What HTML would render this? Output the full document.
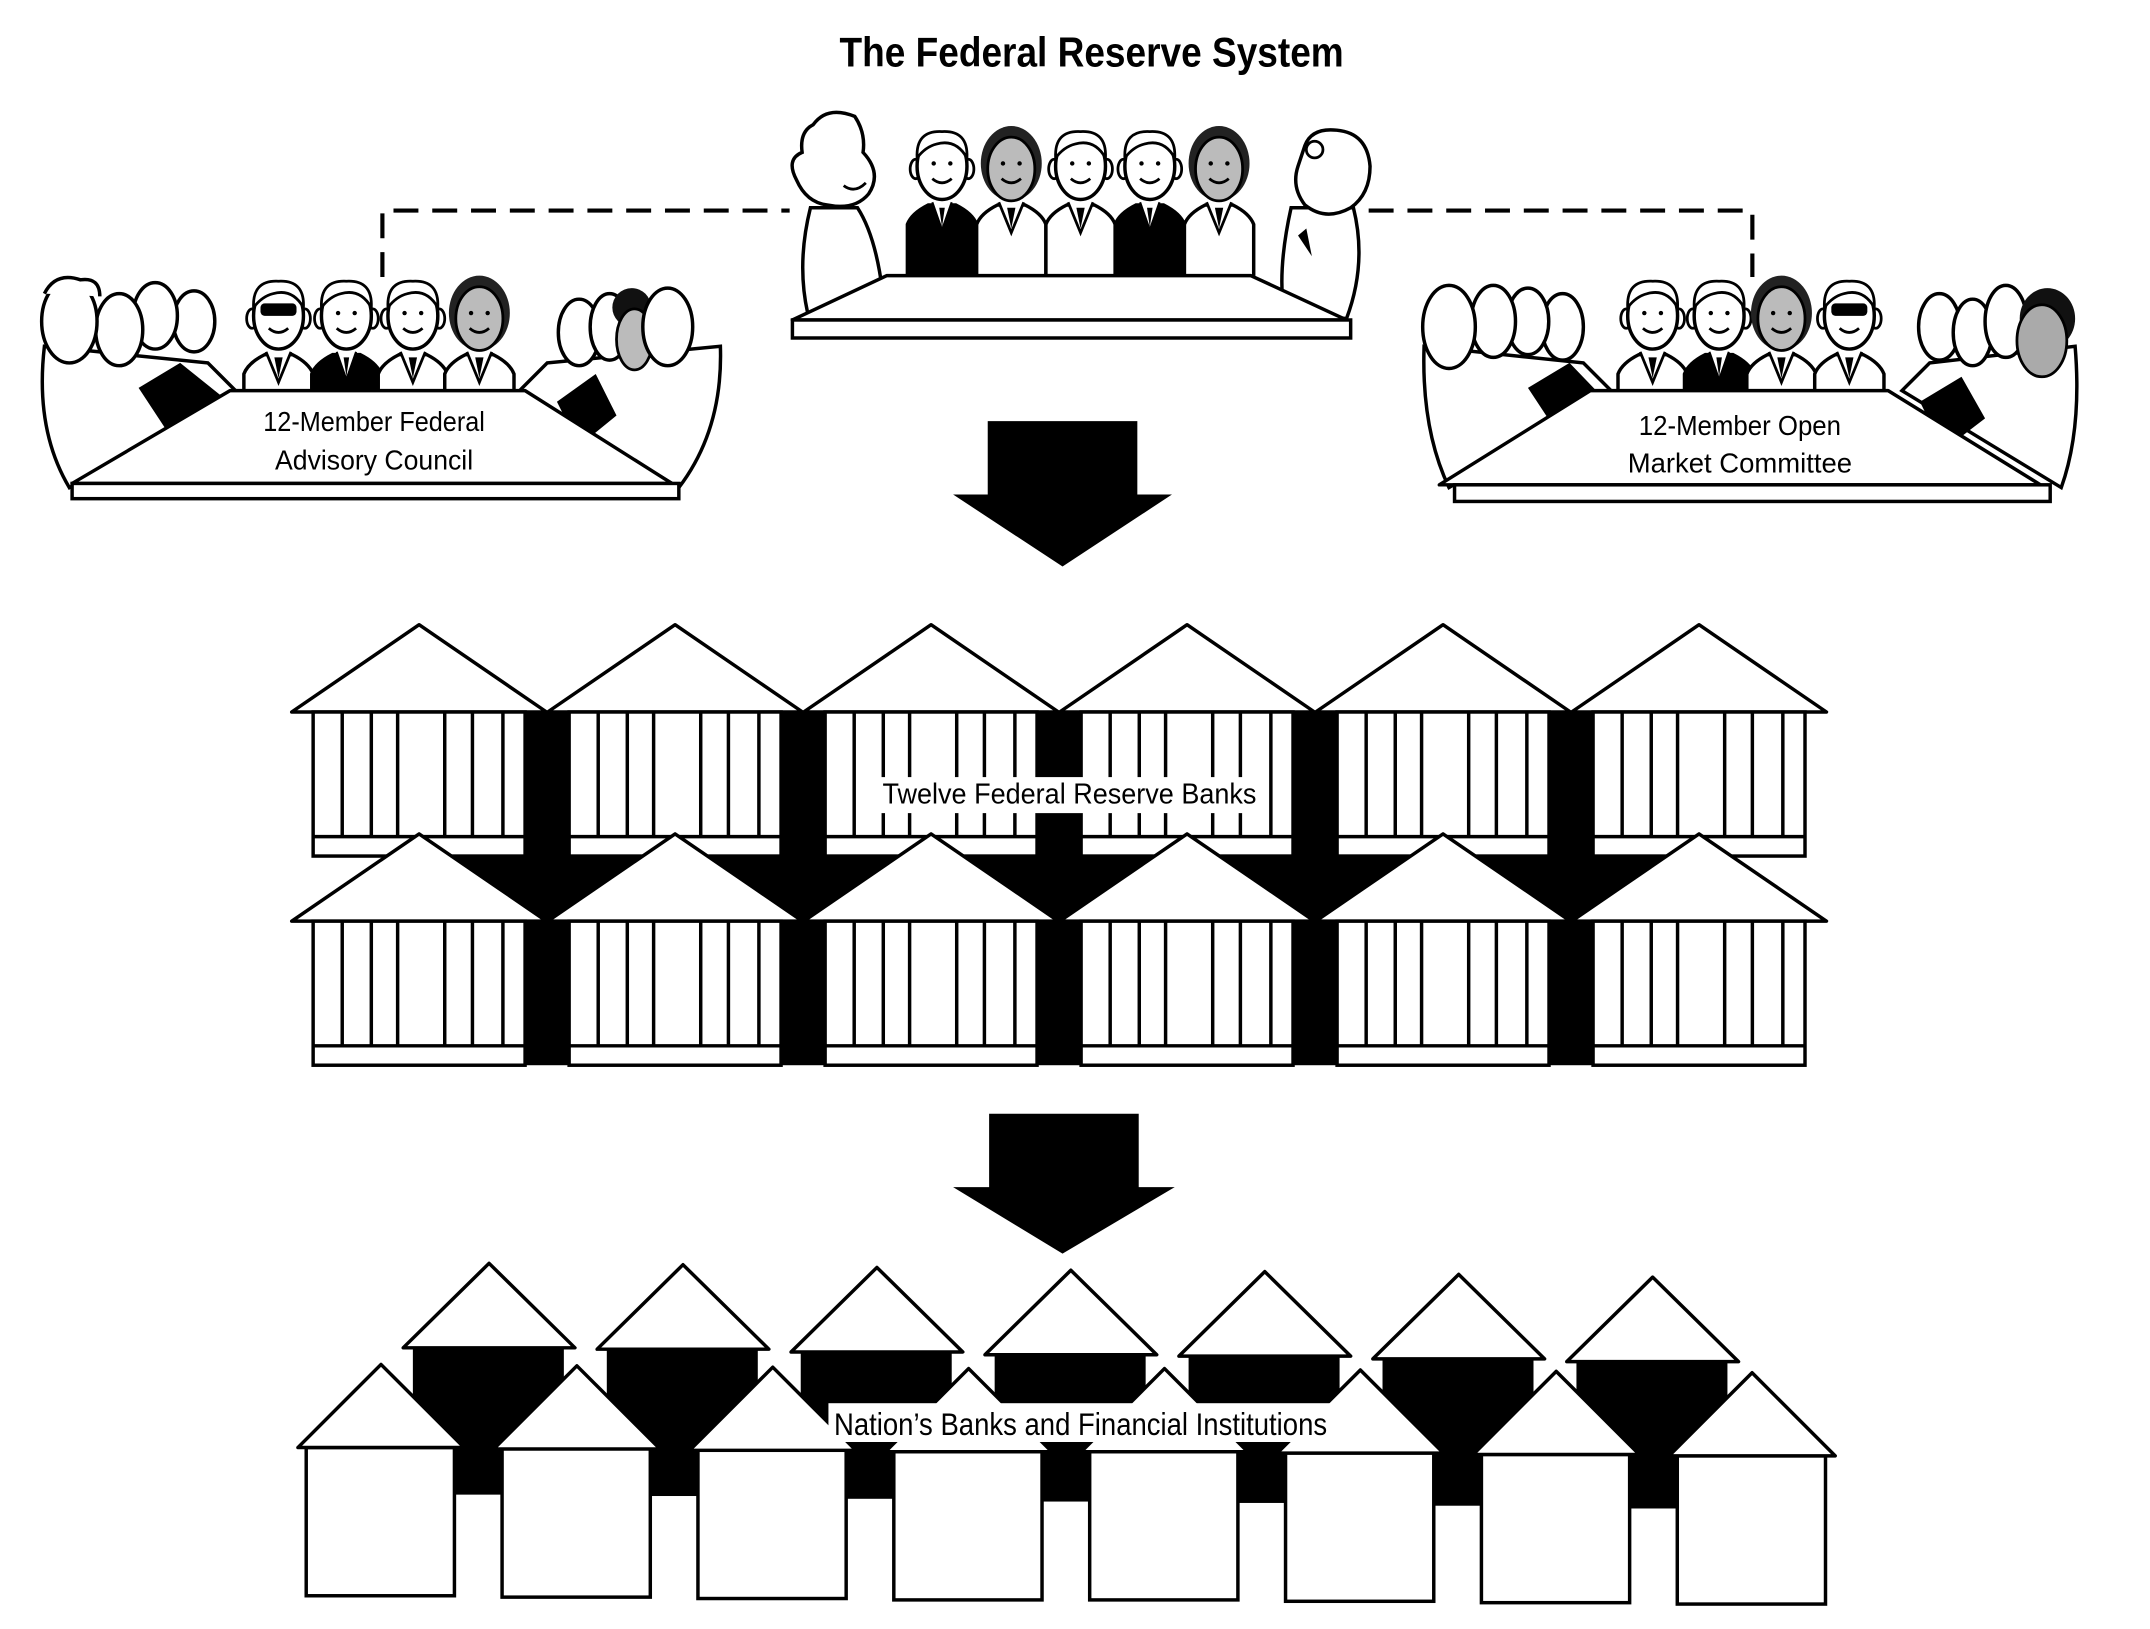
<!DOCTYPE html>
<html><head><meta charset="utf-8"><style>
html,body{margin:0;padding:0;background:#fff}
svg{display:block}
text{font-family:"Liberation Sans",sans-serif;fill:#000}
</style></head><body>
<svg width="2150" height="1629" viewBox="0 0 1552 1176" xmlns="http://www.w3.org/2000/svg">
<defs>
<g id="head">
 <ellipse cx="-19" cy="2" rx="4" ry="7" fill="#fff" stroke="#000" stroke-width="2"/>
 <ellipse cx="19" cy="2" rx="4" ry="7" fill="#fff" stroke="#000" stroke-width="2"/>
 <ellipse cx="0" cy="0" rx="18" ry="24" fill="#fff" stroke="#000" stroke-width="2.5"/>
 <path d="M-18,-6 Q-19,-26 0,-25 Q19,-26 18,-6 Q10,-20 -4,-16 Q-12,-14 -18,-6Z" fill="#fff" stroke="#000" stroke-width="2"/>
 <circle cx="-6" cy="-2" r="1.6"/><circle cx="6" cy="-2" r="1.6"/>
 <path d="M-7,9 Q0,15 7,9" fill="none" stroke="#000" stroke-width="2"/>
</g>
<g id="headG">
 <ellipse cx="0" cy="-2" rx="22" ry="27" fill="#222"/>
 <ellipse cx="0" cy="2" rx="17" ry="23" fill="#bbb" stroke="#000" stroke-width="2"/>
 <circle cx="-6" cy="-2" r="1.6"/><circle cx="6" cy="-2" r="1.6"/>
 <path d="M-7,9 Q0,15 7,9" fill="none" stroke="#000" stroke-width="2"/>
</g>
<g id="bodyW">
 <path d="M-25,85 L-25,42 Q-22,34 -10,28 L10,28 Q22,34 25,42 L25,85Z" fill="#fff" stroke="#000" stroke-width="2.5"/>
 <path d="M-9,26 L0,48 L9,26" fill="#fff" stroke="#000" stroke-width="2"/>
 <path d="M-3,30 L0,45 L3,30" fill="#000"/>
</g>
<g id="bodyB">
 <path d="M-25,85 L-25,42 Q-22,34 -10,28 L10,28 Q22,34 25,42 L25,85Z" fill="#000" stroke="#000" stroke-width="2.5"/>
 <path d="M-7,26 L0,46 L7,26" fill="#fff" stroke="#000" stroke-width="1.5"/>
 <path d="M-2,30 L0,44 L2,30" fill="#000"/>
</g>
<g id="bank">
 <rect x="0" y="0" width="153" height="104" fill="#fff" stroke="#000" stroke-width="2.5"/>
 <line x1="0" y1="90" x2="153" y2="90" stroke="#000" stroke-width="2.5"/>
 <g stroke="#000" stroke-width="2.5">
 <line x1="21" y1="0" x2="21" y2="90"/><line x1="42" y1="0" x2="42" y2="90"/><line x1="61" y1="0" x2="61" y2="90"/>
 <line x1="95" y1="0" x2="95" y2="90"/><line x1="115" y1="0" x2="115" y2="90"/><line x1="137" y1="0" x2="137" y2="90"/>
 </g>
</g>
<polygon id="roof" points="-92,0 0,-63 92,0" fill="#fff" stroke="#000" stroke-width="2.5" stroke-linejoin="round"/>
<g id="fhouse">
 <rect x="-54" y="59" width="107" height="107" fill="#fff" stroke="#000" stroke-width="2.5"/>
 <polygon points="-60,59 0,-1 60,59" fill="#fff" stroke="#000" stroke-width="2.5" stroke-linejoin="round"/>
</g>
<g id="bhouse">
 <rect x="-55" y="61" width="109" height="106" fill="#000"/>
 <polygon points="-62,61 0,0 62,61" fill="#fff" stroke="#000" stroke-width="2.5" stroke-linejoin="round"/>
</g>
</defs>

<text x="788" y="48" font-size="30" font-weight="bold" text-anchor="middle" textLength="364" lengthAdjust="spacingAndGlyphs">The Federal Reserve System</text>

<g stroke="#000" stroke-width="3" fill="none" stroke-dasharray="18,10">
 <path d="M276,200 L276,152 L570,152"/>
 <path d="M988,152 L1265,152 L1265,200"/>
</g>

<!-- Central board -->
<g transform="translate(-3,0)">
 <path d="M588,150 Q578,190 586,226 L640,210 Q635,170 622,150Z" fill="#fff" stroke="#000" stroke-width="2.5"/>
 <path d="M590,90 Q600,76 620,84 Q628,96 626,110 Q640,125 630,140 Q620,152 600,148 Q585,146 578,130 Q570,115 582,110 Q580,95 590,90Z" fill="#fff" stroke="#000" stroke-width="2.5"/>
 <path d="M612,134 Q620,140 628,132" fill="none" stroke="#000" stroke-width="2"/>
 <path d="M935,150 Q925,195 930,225 L975,230 Q990,190 980,150Z" fill="#fff" stroke="#000" stroke-width="2.5"/>
 <path d="M945,105 Q950,92 968,94 Q990,96 992,120 Q992,140 978,150 Q960,160 945,148 Q935,135 940,120 Z" fill="#fff" stroke="#000" stroke-width="2.5"/>
 <circle cx="952" cy="108" r="6" fill="#fff" stroke="#000" stroke-width="2"/>
 <path d="M940,170 L950,185 L946,165Z" fill="#000"/>
 <use href="#bodyB" x="683" y="120"/><use href="#head" x="683" y="120"/>
 <use href="#bodyW" x="733" y="120"/><use href="#headG" x="733" y="120"/>
 <use href="#bodyW" x="783" y="120"/><use href="#head" x="783" y="120"/>
 <use href="#bodyB" x="833" y="120"/><use href="#head" x="833" y="120"/>
 <use href="#bodyW" x="883" y="120"/><use href="#headG" x="883" y="120"/>
 <polygon points="643,199 906,199 975,231 575,231" fill="#fff" stroke="#000" stroke-width="2.5" stroke-linejoin="round"/>
 <rect x="575" y="231" width="403" height="13" fill="#fff" stroke="#000" stroke-width="2.5"/>
</g>

<!-- Left council -->
<g>
 <path d="M32,250 Q25,310 50,352 L170,282 L150,262 Z" fill="#fff" stroke="#000" stroke-width="2.5"/>
 <path d="M100,280 L130,262 L165,290 L125,318Z" fill="#000"/>
 <ellipse cx="140" cy="232" rx="15" ry="22" fill="#fff" stroke="#000" stroke-width="2.5"/>
 <ellipse cx="112" cy="228" rx="16" ry="24" fill="#fff" stroke="#000" stroke-width="2.5"/>
 <ellipse cx="86" cy="238" rx="17" ry="26" fill="#fff" stroke="#000" stroke-width="2.5"/>
 <ellipse cx="50" cy="232" rx="20" ry="30" fill="#fff" stroke="#000" stroke-width="2.5"/>
 <path d="M32,212 Q40,196 58,202 Q72,200 72,214" fill="#fff" stroke="#000" stroke-width="2.5"/>
 <path d="M520,250 Q522,310 490,352 L375,282 L395,262 Z" fill="#fff" stroke="#000" stroke-width="2.5"/>
 <path d="M402,290 L430,270 L445,300 L418,322Z" fill="#000"/>
 <ellipse cx="418" cy="240" rx="15" ry="24" fill="#fff" stroke="#000" stroke-width="2.5"/>
 <ellipse cx="440" cy="236" rx="14" ry="24" fill="#fff" stroke="#000" stroke-width="2.5"/>
 <ellipse cx="456" cy="222" rx="14" ry="14" fill="#111"/>
 <ellipse cx="458" cy="245" rx="13" ry="22" fill="#bbb" stroke="#000" stroke-width="2"/>
 <ellipse cx="482" cy="236" rx="18" ry="28" fill="#fff" stroke="#000" stroke-width="2.5"/>
 <use href="#bodyW" x="201" y="228"/><use href="#head" x="201" y="228"/>
 <rect x="188" y="219" width="26" height="9" rx="3" fill="#000"/>
 <use href="#bodyB" x="250" y="228"/><use href="#head" x="250" y="228"/>
 <use href="#bodyW" x="298" y="228"/><use href="#head" x="298" y="228"/>
 <use href="#bodyW" x="346" y="228"/><use href="#headG" x="346" y="228"/>
 <polygon points="166,282 379,282 485,349 52,349" fill="#fff" stroke="#000" stroke-width="2.5" stroke-linejoin="round"/>
 <rect x="52" y="349" width="438" height="11" fill="#fff" stroke="#000" stroke-width="2.5"/>
 <text x="270" y="311" font-size="20" text-anchor="middle" textLength="160" lengthAdjust="spacingAndGlyphs">12-Member Federal</text>
 <text x="270" y="339" font-size="20" text-anchor="middle" textLength="143" lengthAdjust="spacingAndGlyphs">Advisory Council</text>
</g>

<!-- Right committee -->
<g transform="translate(-12,0)">
 <path d="M1040,250 Q1038,310 1058,352 L1175,282 L1155,262 Z" fill="#fff" stroke="#000" stroke-width="2.5"/>
 <path d="M1115,280 L1145,262 L1172,290 L1140,318Z" fill="#000"/>
 <ellipse cx="1140" cy="236" rx="15" ry="24" fill="#fff" stroke="#000" stroke-width="2.5"/>
 <ellipse cx="1115" cy="232" rx="15" ry="24" fill="#fff" stroke="#000" stroke-width="2.5"/>
 <ellipse cx="1090" cy="232" rx="16" ry="26" fill="#fff" stroke="#000" stroke-width="2.5"/>
 <ellipse cx="1058" cy="236" rx="19" ry="30" fill="#fff" stroke="#000" stroke-width="2.5"/>
 <path d="M1510,250 Q1515,310 1500,352 L1385,282 L1405,262 Z" fill="#fff" stroke="#000" stroke-width="2.5"/>
 <path d="M1398,290 L1428,272 L1445,302 L1415,325Z" fill="#000"/>
 <ellipse cx="1412" cy="236" rx="15" ry="24" fill="#fff" stroke="#000" stroke-width="2.5"/>
 <ellipse cx="1436" cy="240" rx="14" ry="24" fill="#fff" stroke="#000" stroke-width="2.5"/>
 <ellipse cx="1460" cy="232" rx="15" ry="26" fill="#fff" stroke="#000" stroke-width="2.5"/>
 <ellipse cx="1490" cy="230" rx="20" ry="22" fill="#111"/>
 <ellipse cx="1486" cy="246" rx="18" ry="26" fill="#aaa" stroke="#000" stroke-width="2"/>
 <use href="#bodyW" x="1205" y="228"/><use href="#head" x="1205" y="228"/>
 <use href="#bodyB" x="1253" y="228"/><use href="#head" x="1253" y="228"/>
 <use href="#bodyW" x="1298" y="228"/><use href="#headG" x="1298" y="228"/>
 <use href="#bodyW" x="1347" y="228"/><use href="#head" x="1347" y="228"/>
 <rect x="1334" y="219" width="26" height="9" rx="3" fill="#000"/>
 <polygon points="1160,282 1375,282 1485,350 1051,350" fill="#fff" stroke="#000" stroke-width="2.5" stroke-linejoin="round"/>
 <rect x="1062" y="350" width="430" height="12" fill="#fff" stroke="#000" stroke-width="2.5"/>
 <text x="1268" y="314" font-size="20" text-anchor="middle" textLength="146" lengthAdjust="spacingAndGlyphs">12-Member Open</text>
 <text x="1268" y="341" font-size="20" text-anchor="middle" textLength="162" lengthAdjust="spacingAndGlyphs">Market Committee</text>
</g>

<!-- Arrows -->
<polygon points="713,304 821,304 821,357 846,357 767,409 688,357 713,357" fill="#000"/>
<polygon points="714,804 822,804 822,857 848,857 767,905 688,857 714,857" fill="#000"/>

<!-- Federal Reserve Banks -->
<g>
 <rect x="379" y="514" width="32" height="255" fill="#000"/>
 <rect x="564" y="514" width="32" height="255" fill="#000"/>
 <rect x="749" y="514" width="32" height="255" fill="#000"/>
 <rect x="934" y="514" width="32" height="255" fill="#000"/>
 <rect x="1118" y="514" width="32" height="255" fill="#000"/>
 <rect x="303" y="617" width="924" height="50" fill="#000"/>
 <use href="#roof" x="302.5" y="514"/><use href="#roof" x="487.3" y="514"/><use href="#roof" x="672.1" y="514"/>
 <use href="#roof" x="856.9" y="514"/><use href="#roof" x="1041.7" y="514"/><use href="#roof" x="1226.5" y="514"/>
 <use href="#bank" x="226" y="514"/><use href="#bank" x="410.8" y="514"/><use href="#bank" x="595.6" y="514"/>
 <use href="#bank" x="780.4" y="514"/><use href="#bank" x="965.2" y="514"/><use href="#bank" x="1150" y="514"/>
 <use href="#roof" x="302.5" y="665"/><use href="#roof" x="487.3" y="665"/><use href="#roof" x="672.1" y="665"/>
 <use href="#roof" x="856.9" y="665"/><use href="#roof" x="1041.7" y="665"/><use href="#roof" x="1226.5" y="665"/>
 <use href="#bank" x="226" y="665"/><use href="#bank" x="410.8" y="665"/><use href="#bank" x="595.6" y="665"/>
 <use href="#bank" x="780.4" y="665"/><use href="#bank" x="965.2" y="665"/><use href="#bank" x="1150" y="665"/>
 <rect x="636" y="561" width="272" height="26" fill="#fff"/>
 <text x="772" y="580" font-size="21" text-anchor="middle" textLength="270" lengthAdjust="spacingAndGlyphs">Twelve Federal Reserve Banks</text>
</g>

<!-- Nation's banks -->
<g>
 <use href="#bhouse" x="353" y="912"/><use href="#bhouse" x="493" y="913"/><use href="#bhouse" x="633" y="915"/>
 <use href="#bhouse" x="773" y="917"/><use href="#bhouse" x="913" y="918"/><use href="#bhouse" x="1053" y="920"/>
 <use href="#bhouse" x="1193" y="922"/>
 <use href="#fhouse" x="275" y="986"/><use href="#fhouse" x="416.4" y="987"/><use href="#fhouse" x="557.8" y="988"/>
 <use href="#fhouse" x="699.2" y="989"/><use href="#fhouse" x="840.6" y="989"/><use href="#fhouse" x="982" y="990"/>
 <use href="#fhouse" x="1123.4" y="991"/><use href="#fhouse" x="1264.8" y="992"/>
 <rect x="598" y="1013" width="364" height="28" fill="#fff"/>
 <text x="780" y="1036" font-size="23" text-anchor="middle" textLength="356" lengthAdjust="spacingAndGlyphs">Nation’s Banks and Financial Institutions</text>
</g>
</svg>
</body></html>
